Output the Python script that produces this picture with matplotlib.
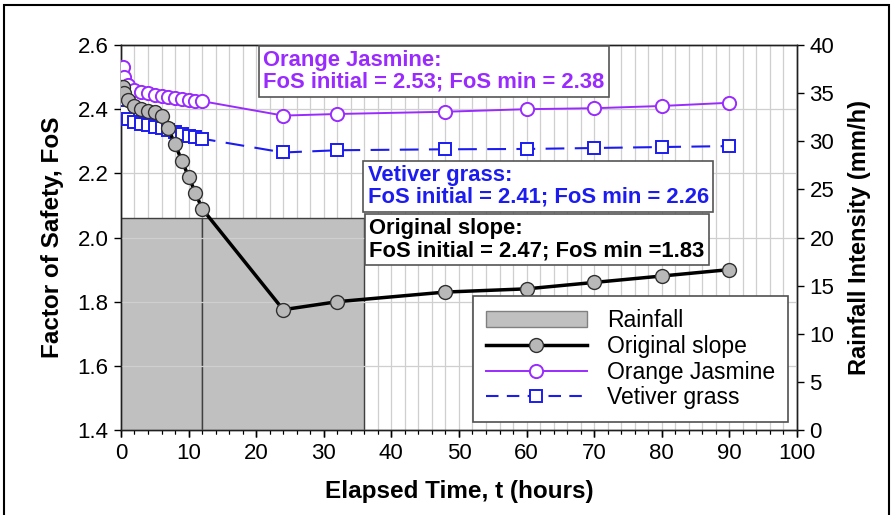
import numpy as np
import matplotlib
matplotlib.use("Agg")
from matplotlib import pyplot as plt
from matplotlib.ticker import MultipleLocator
from matplotlib.patches import Patch, Rectangle
from matplotlib.lines import Line2D

plt.rcParams['font.family'] = ['Liberation Sans', 'DejaVu Sans']

# rainfall event (start hour, duration, intensity in mm/h)
rain_start = [0, 12]
rain_dur = [12, 24]
rain_int = [22, 22]

# factor of safety vs elapsed time
t_orig = [0, 0.25, 0.5, 1, 2, 3, 4, 5, 6, 7, 8, 9, 10, 11, 12,
          24, 32, 48, 60, 70, 80, 90]
fos_orig = [2.47, 2.47, 2.45, 2.43, 2.41, 2.40, 2.395, 2.39, 2.38, 2.34,
            2.29, 2.24, 2.19, 2.14, 2.09,
            1.775, 1.80, 1.83, 1.84, 1.86, 1.88, 1.90]

t_oj = [0, 0.25, 0.5, 1, 2, 3, 4, 5, 6, 7, 8, 9, 10, 11, 12,
        24, 32, 48, 60, 70, 80, 90]
fos_oj = [2.53, 2.53, 2.50, 2.475, 2.46, 2.455, 2.45, 2.445, 2.44, 2.438,
          2.435, 2.432, 2.43, 2.427, 2.425,
          2.38, 2.385, 2.392, 2.40, 2.403, 2.41, 2.42]

t_vg = [0, 0.25, 0.5, 1, 2, 3, 4, 5, 6, 7, 8, 9, 10, 11, 12,
        24, 32, 48, 60, 70, 80, 90]
fos_vg = [2.41, 2.41, 2.39, 2.37, 2.36, 2.355, 2.35, 2.345, 2.34, 2.335,
          2.33, 2.322, 2.317, 2.312, 2.308,
          2.265, 2.272, 2.275, 2.276, 2.279, 2.282, 2.285]

c_orig = 'black'
c_oj = '#9a2bff'
c_vg = '#1c1cf0'
c_rain = '#c0c0c0'

fig = plt.figure(figsize=(8.96, 5.15), dpi=100)
ax1 = fig.add_axes([0.135, 0.165, 0.7545, 0.7476])
ax2 = ax1.twinx()
ax1.set_zorder(ax2.get_zorder() + 1)
ax1.patch.set_visible(False)
ax2.patch.set_visible(True)
ax2.patch.set_facecolor('white')

# rainfall bars (right axis)
ax2.bar(rain_start, rain_int, width=rain_dur, align='edge', color=c_rain,
        edgecolor='#404040', linewidth=1.0, zorder=3)
ax2.set_ylim(0, 40)
ax2.yaxis.set_major_locator(MultipleLocator(5))
ax2.set_ylabel("Rainfall Intensity (mm/h)", fontsize=17, fontweight='bold',
               labelpad=10)

# vertical grid drawn under the rainfall bars
ax2.xaxis.set_visible(True)
ax2.tick_params(axis='x', which='both', length=0, labelbottom=False,
                labeltop=False)
ax2.grid(True, axis='x', which='both', color='#cfcfcf', lw=0.9, zorder=0)

# FoS series (left axis)
ax1.plot(t_orig, fos_orig, '-o', color=c_orig, lw=2.5, ms=10,
         mfc='#b8b8b8', mec='#303030', mew=1.0, zorder=5)
ax1.plot(t_oj, fos_oj, '-o', color=c_oj, lw=1.4, ms=9.5,
         mfc='white', mec=c_oj, mew=1.4, zorder=4)
ax1.plot(t_vg, fos_vg, '--s', color=c_vg, lw=1.5, ms=8,
         mfc='white', mec=c_vg, mew=1.4, dashes=(9, 5), zorder=4)

ax1.set_xlim(0, 100)
ax1.set_ylim(1.4, 2.6)
ax1.xaxis.set_major_locator(MultipleLocator(10))
ax1.xaxis.set_minor_locator(MultipleLocator(2))
ax1.yaxis.set_major_locator(MultipleLocator(0.2))
ax1.yaxis.set_major_formatter(plt.FormatStrFormatter('%.1f'))
ax1.grid(True, axis='y', which='major', color='#cfcfcf', lw=0.9)
ax1.set_xlabel("Elapsed Time, t (hours)", fontsize=17.5, fontweight='bold',
               labelpad=12)
ax1.set_ylabel("Factor of Safety, FoS", fontsize=17.5, fontweight='bold',
               labelpad=10)

for ax in (ax1, ax2):
    ax.tick_params(which='major', direction='out', length=5, width=1,
                   labelsize=16, colors='black', pad=4)
    ax.tick_params(which='minor', direction='out', length=3, width=0.8)
    for sp in ax.spines.values():
        sp.set_color('#202020')
        sp.set_linewidth(1.0)

# annotation boxes
box = dict(boxstyle='square,pad=0.2', fc='white', ec='#555555', lw=1.2)
kw = dict(transform=ax1.transAxes, va='top', ha='left', fontsize=15.8,
          fontweight='bold', linespacing=1.05, bbox=box, zorder=6)
ax1.text(0.210, 0.987, "Orange Jasmine:\nFoS initial = 2.53; FoS min = 2.38",
         color=c_oj, **kw)
ax1.text(0.365, 0.688, "Vetiver grass:\nFoS initial = 2.41; FoS min = 2.26",
         color=c_vg, **kw)
ax1.text(0.367, 0.550, "Original slope:\nFoS initial = 2.47; FoS min =1.83",
         color='black', **kw)

# legend
handles = [Patch(facecolor=c_rain, edgecolor='#808080'),
           Line2D([], [], color=c_orig, lw=2.5, marker='o', ms=10,
                  mfc='#b8b8b8', mec='#303030'),
           Line2D([], [], color=c_oj, lw=1.4, marker='o', ms=9.5,
                  mfc='white', mec=c_oj, mew=1.4),
           Line2D([], [], color=c_vg, lw=1.5, marker='s', ms=8,
                  mfc='white', mec=c_vg, mew=1.4, ls='--', dashes=(6, 4))]
labels = ["Rainfall", "Original slope", "Orange Jasmine", "Vetiver grass"]
leg = ax1.legend(handles, labels, loc='lower right',
                 bbox_to_anchor=(0.987, 0.021), fontsize=16.5, frameon=True,
                 fancybox=False, edgecolor='#505050', framealpha=1,
                 handlelength=4.4, labelspacing=0.12, borderpad=0.55,
                 handletextpad=0.9, borderaxespad=0)
leg.get_frame().set_linewidth(1.2)
leg.set_zorder(7)

# outer frame
fig.patches.append(Rectangle((0.004, -0.01), 0.988, 1.0, transform=fig.transFigure,
                             fill=False, ec='black', lw=1.5))

fig.savefig("out.png", dpi=100)
